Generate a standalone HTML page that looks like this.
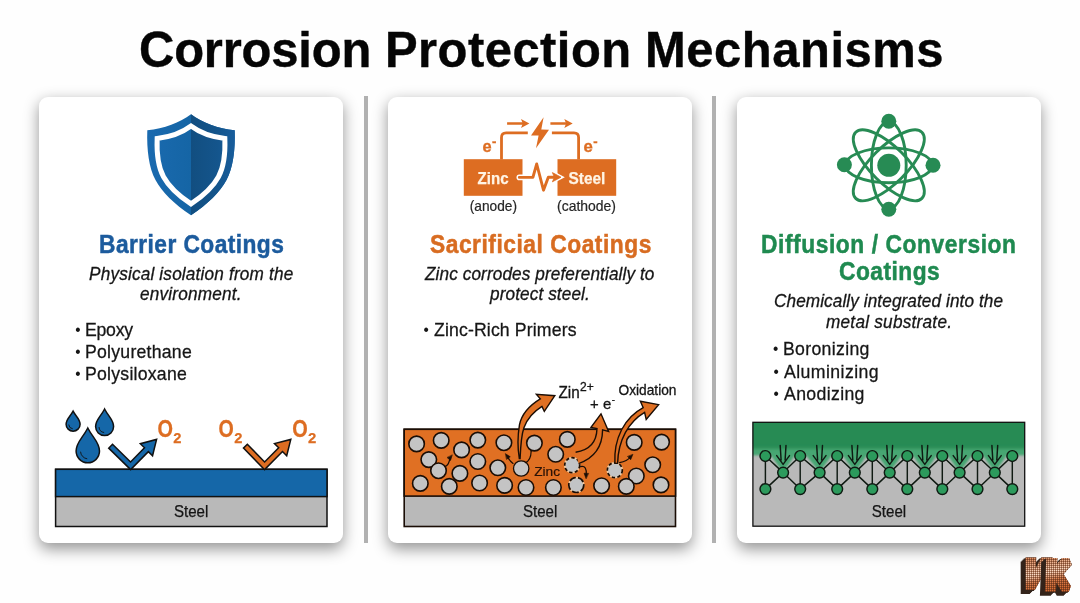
<!DOCTYPE html>
<html lang="en">
<head>
<meta charset="utf-8">
<title>Corrosion Protection Mechanisms</title>
<style>
*{box-sizing:border-box;margin:0;padding:0}
html,body{width:1080px;height:603px;overflow:hidden;background:#fefefe}
#stage{position:absolute;left:0;top:0;width:1080px;height:603px;will-change:transform}
body{position:relative;font-family:"Liberation Sans",sans-serif;color:#151515}
.card{position:absolute;top:96.8px;width:303.7px;height:446.1px;background:#fff;border-radius:9px;box-shadow:0 5.3px 15px rgba(0,0,0,.42)}
.divider{position:absolute;top:96.3px;width:4.4px;height:446.4px;background:#b1b1b1}
.t{position:absolute;white-space:nowrap;transform-origin:0 0}
h1.t{font-weight:700;color:#050505;letter-spacing:0;-webkit-text-stroke:0.4px #050505}
h1.t span{position:absolute;top:0;white-space:nowrap}
h2.t{font-weight:700}
.blue{color:#1c5b9d}.orange{color:#d86c21}.green{color:#1f8a50}
p.t{font-style:italic;color:#161616}
ul{list-style:none}
li.t{color:#161616}
li.t b{font-weight:400;position:absolute;top:-1.5px;margin-left:0.5px;letter-spacing:0;font-size:0.86em;-webkit-text-stroke:0}
svg#art{position:absolute;left:0;top:0;width:1080px;height:603px;overflow:visible}
svg text{font-family:"Liberation Sans",sans-serif}
</style>
</head>
<body>
<div id="stage">
<div class="card" style="left:39.2px"></div>
<div class="card" style="left:388.3px"></div>
<div class="card" style="left:737.1px"></div>
<div class="divider" style="left:363.5px"></div>
<div class="divider" style="left:712.1px"></div>

<h1 class="t" style="left:0;top:20px;width:1080px;height:60px;line-height:60px;font-size:50.2px"><span style="left:138.97px;letter-spacing:-0.185px;transform:scaleX(0.975);transform-origin:0 0">Corrosion</span> <span style="left:384.64px;letter-spacing:0.480px;transform:scaleX(0.975);transform-origin:0 0">Protection</span> <span style="left:644.64px;letter-spacing:0.554px;transform:scaleX(0.975);transform-origin:0 0">Mechanisms</span></h1>
<h2 class="t blue" style="left:98.80px;top:228px;line-height:32px;font-size:25.6px;letter-spacing:0.478px;-webkit-text-stroke:0.5px currentColor;transform:scaleX(0.89);">Barrier Coatings</h2>
<p class="t" style="left:88.62px;top:262px;line-height:23px;font-size:18.3px;letter-spacing:0.190px;-webkit-text-stroke:0.3px currentColor;transform:scaleX(0.94);">Physical isolation from the</p>
<p class="t" style="left:140.40px;top:282px;line-height:23px;font-size:18.3px;letter-spacing:0.204px;-webkit-text-stroke:0.3px currentColor;transform:scaleX(0.94);">environment.</p>
<ul>
<li class="t" style="left:85.46px;top:319px;line-height:22px;font-size:19.0px;letter-spacing:-0.271px;-webkit-text-stroke:0.3px currentColor;transform:scaleX(0.93);"><b style="left:-11.03px">&bull;</b>Epoxy</li>
<li class="t" style="left:85.46px;top:341px;line-height:22px;font-size:19.0px;letter-spacing:0.253px;-webkit-text-stroke:0.3px currentColor;transform:scaleX(0.93);"><b style="left:-11.03px">&bull;</b>Polyurethane</li>
<li class="t" style="left:85.46px;top:363px;line-height:22px;font-size:19.0px;letter-spacing:0.255px;-webkit-text-stroke:0.3px currentColor;transform:scaleX(0.93);"><b style="left:-11.03px">&bull;</b>Polysiloxane</li>
</ul>
<h2 class="t orange" style="left:429.57px;top:228px;line-height:32px;font-size:25.6px;letter-spacing:0.590px;-webkit-text-stroke:0.5px currentColor;transform:scaleX(0.89);">Sacrificial Coatings</h2>
<p class="t" style="left:424.88px;top:262px;line-height:23px;font-size:18.3px;letter-spacing:0.107px;-webkit-text-stroke:0.3px currentColor;transform:scaleX(0.94);">Zinc corrodes preferentially to</p>
<p class="t" style="left:490.38px;top:282px;line-height:23px;font-size:18.3px;letter-spacing:0.114px;-webkit-text-stroke:0.3px currentColor;transform:scaleX(0.94);">protect steel.</p>
<ul>
<li class="t" style="left:434.49px;top:319px;line-height:22px;font-size:19.0px;letter-spacing:0.144px;-webkit-text-stroke:0.3px currentColor;transform:scaleX(0.93);"><b style="left:-11.71px">&bull;</b>Zinc-Rich Primers</li>
</ul>
<h2 class="t green" style="left:760.80px;top:228px;line-height:32px;font-size:25.6px;letter-spacing:0.644px;-webkit-text-stroke:0.5px currentColor;transform:scaleX(0.89);">Diffusion / Conversion</h2>
<h2 class="t green" style="left:838.71px;top:255px;line-height:32px;font-size:25.6px;letter-spacing:0.518px;-webkit-text-stroke:0.5px currentColor;transform:scaleX(0.89);">Coatings</h2>
<p class="t" style="left:773.53px;top:289px;line-height:23px;font-size:18.3px;letter-spacing:0.097px;-webkit-text-stroke:0.3px currentColor;transform:scaleX(0.94);">Chemically integrated into the</p>
<p class="t" style="left:825.67px;top:310px;line-height:23px;font-size:18.3px;letter-spacing:0.263px;-webkit-text-stroke:0.3px currentColor;transform:scaleX(0.94);">metal substrate.</p>
<ul>
<li class="t" style="left:783.16px;top:338px;line-height:22px;font-size:19.0px;letter-spacing:0.347px;-webkit-text-stroke:0.3px currentColor;transform:scaleX(0.93);"><b style="left:-11.14px">&bull;</b>Boronizing</li>
<li class="t" style="left:783.84px;top:361px;line-height:22px;font-size:19.0px;letter-spacing:0.458px;-webkit-text-stroke:0.3px currentColor;transform:scaleX(0.93);"><b style="left:-11.87px">&bull;</b>Aluminizing</li>
<li class="t" style="left:783.84px;top:383px;line-height:22px;font-size:19.0px;letter-spacing:0.377px;-webkit-text-stroke:0.3px currentColor;transform:scaleX(0.93);"><b style="left:-11.87px">&bull;</b>Anodizing</li>
</ul>
<svg id="art" viewBox="0 0 1080 603" width="1080" height="603">
<defs>
<linearGradient id="shgL" gradientUnits="userSpaceOnUse" x1="147" y1="0" x2="191" y2="0"><stop offset="0" stop-color="#1a6aaf"/><stop offset="1" stop-color="#1565a5"/></linearGradient>
<linearGradient id="shgR" gradientUnits="userSpaceOnUse" x1="191" y1="0" x2="235" y2="0"><stop offset="0" stop-color="#124e80"/><stop offset="0.6" stop-color="#14558c"/><stop offset="1" stop-color="#185d9c"/></linearGradient>
<clipPath id="shR"><rect x="190.9" y="100" width="60" height="130"/></clipPath>
<filter id="blur2" x="-20%" y="-50%" width="140%" height="200%"><feGaussianBlur stdDeviation="1.6"/></filter>
<filter id="blur1" x="-20%" y="-50%" width="140%" height="200%"><feGaussianBlur stdDeviation="0.8"/></filter>
<clipPath id="latclip"><rect x="752.9" y="422.3" width="271.8" height="103.9"/></clipPath>
<pattern id="seq" x="0" y="0" width="2" height="2" patternUnits="userSpaceOnUse"><rect width="2" height="2" fill="#5a2a13"/><rect x="0" y="0" width="1.45" height="1.45" rx="0.4" fill="#e26a2c"/></pattern>
<pattern id="seqdot" x="0" y="0" width="2" height="2" patternUnits="userSpaceOnUse"><rect x="0" y="0" width="1.5" height="1.5" rx="0.45" fill="#fff6ea"/></pattern>
<linearGradient id="higrad" gradientUnits="userSpaceOnUse" x1="1040" y1="556" x2="1046" y2="592"><stop offset="0" stop-color="#fff" stop-opacity="0.3"/><stop offset=".3" stop-color="#fff" stop-opacity=".7"/><stop offset=".48" stop-color="#fff" stop-opacity=".95"/><stop offset=".7" stop-color="#fff" stop-opacity="0.22"/><stop offset="1" stop-color="#fff" stop-opacity="0.05"/></linearGradient>
<mask id="himask" maskUnits="userSpaceOnUse" x="1010" y="545" width="70" height="58"><rect x="1010" y="545" width="70" height="58" fill="url(#higrad)"/></mask>
<mask id="mV" maskUnits="userSpaceOnUse" x="1010" y="545" width="70" height="58"><use href="#gV" fill="#fff" stroke="#fff"/></mask>
<mask id="mK" maskUnits="userSpaceOnUse" x="1010" y="545" width="70" height="58"><use href="#gK" fill="#fff" stroke="#fff"/></mask>
<filter id="extrude" filterUnits="userSpaceOnUse" x="1008" y="545" width="72" height="58" color-interpolation-filters="sRGB"><feOffset in="SourceGraphic" dx="-0.92" dy="0.74" result="o1"/><feOffset in="SourceGraphic" dx="-1.84" dy="1.48" result="o2"/><feOffset in="SourceGraphic" dx="-2.76" dy="2.22" result="o3"/><feOffset in="SourceGraphic" dx="-3.68" dy="2.96" result="o4"/><feOffset in="SourceGraphic" dx="-4.6" dy="3.7" result="o5"/><feMerge><feMergeNode in="o5"/><feMergeNode in="o4"/><feMergeNode in="o3"/><feMergeNode in="o2"/><feMergeNode in="o1"/><feMergeNode in="SourceGraphic"/></feMerge></filter>
</defs>
<g id="shield"><path d="M191,114.2 C180,122.5 164,128.5 147.3,130.3 C146.6,150 149,168 155.5,180 C162,192 174,204 191,215.3 C208,204 220,192 226.5,180 C233,168 235.4,150 234.7,130.3 C218,128.5 202,122.5 191,114.2 Z" fill="url(#shgL)"/>
<path d="M191,114.2 C180,122.5 164,128.5 147.3,130.3 C146.6,150 149,168 155.5,180 C162,192 174,204 191,215.3 C208,204 220,192 226.5,180 C233,168 235.4,150 234.7,130.3 C218,128.5 202,122.5 191,114.2 Z" fill="url(#shgR)" clip-path="url(#shR)"/>
<path d="M191,114.2 C180,122.5 164,128.5 147.3,130.3 C146.6,150 149,168 155.5,180 C162,192 174,204 191,215.3 C208,204 220,192 226.5,180 C233,168 235.4,150 234.7,130.3 C218,128.5 202,122.5 191,114.2 Z" fill="none" stroke="#fff" stroke-width="6.4" stroke-linejoin="miter" transform="translate(191 165) scale(0.775 0.77) translate(-191 -164.75)"/></g>
<g id="d1" stroke="#111" stroke-width="1.5" stroke-linejoin="miter">
<rect x="55.6" y="469.3" width="271.4" height="57.2" fill="#b9b9b9"/>
<rect x="55.6" y="469.3" width="271.4" height="27.3" fill="#1567a8"/>
<path d="M73.1,411.2 C76.25,417.05 80.10,418.95 80.10,424.20 A7.0,7.0 0 0 1 66.10,424.20 C66.10,418.95 69.95,417.05 73.1,411.2 Z" fill="#1567a8"/><path d="M68.76,424.55 A4.62,4.62 0 0 0 72.75,428.82" fill="none" stroke-width="0.9"/>
<path d="M104.6,409.0 C108.65,416.92 113.60,419.85 113.60,426.60 A9.0,9.0 0 0 1 95.60,426.60 C95.60,419.85 100.55,416.92 104.6,409.0 Z" fill="#1567a8"/><path d="M99.02,427.05 A5.94,5.94 0 0 0 104.15,432.54" fill="none" stroke-width="0.9"/>
<path d="M87.8,428.0 C93.06,438.39 99.50,442.33 99.50,451.10 A11.7,11.7 0 0 1 76.10,451.10 C76.10,442.33 82.53,438.39 87.8,428.0 Z" fill="#1567a8"/><path d="M80.55,451.69 A7.72,7.72 0 0 0 87.22,458.82" fill="none" stroke-width="0.9"/>
<polygon points="112.49,444.27 130.57,461.99 144.50,447.84 140.30,443.70 156.60,439.40 152.55,455.77 148.35,451.63 130.63,469.61 108.71,448.13" fill="#1567a8"/>
<polygon points="247.33,444.31 264.61,461.95 278.67,447.79 274.48,443.63 290.80,439.40 286.69,455.75 282.50,451.59 264.59,469.65 243.47,448.09" fill="#dd6d22"/>
</g>
<text x="157.43" y="437.2" font-size="23.6" font-weight="700" fill="#dd6d22" stroke="#dd6d22" stroke-width="0.3" textLength="15.48" lengthAdjust="spacingAndGlyphs">O</text>
<text x="173.23" y="443" font-size="14.8" font-weight="700" fill="#dd6d22" stroke="#dd6d22" stroke-width="0.25" textLength="8.19" lengthAdjust="spacingAndGlyphs">2</text>
<text x="218.54" y="437.2" font-size="23.6" font-weight="700" fill="#dd6d22" stroke="#dd6d22" stroke-width="0.3" textLength="15.26" lengthAdjust="spacingAndGlyphs">O</text>
<text x="234.23" y="443" font-size="14.8" font-weight="700" fill="#dd6d22" stroke="#dd6d22" stroke-width="0.25" textLength="8.19" lengthAdjust="spacingAndGlyphs">2</text>
<text x="292.33" y="437.2" font-size="23.6" font-weight="700" fill="#dd6d22" stroke="#dd6d22" stroke-width="0.3" textLength="15.48" lengthAdjust="spacingAndGlyphs">O</text>
<text x="308.12" y="443" font-size="14.8" font-weight="700" fill="#dd6d22" stroke="#dd6d22" stroke-width="0.25" textLength="8.30" lengthAdjust="spacingAndGlyphs">2</text>
<text x="173.95" y="517" font-size="16.3" fill="#151515" stroke="#151515" stroke-width="0.25" textLength="34.42" lengthAdjust="spacingAndGlyphs">Steel</text>
<g id="ic2" fill="none" stroke="#dd6d22" stroke-width="2.8" stroke-linecap="butt" stroke-linejoin="round">
<rect x="463.8" y="159.2" width="58.7" height="36.6" fill="#dd6d22" stroke="none"/>
<rect x="557.5" y="159.2" width="58.7" height="36.6" fill="#dd6d22" stroke="none"/>
<path d="M501.5,159.6 V137.4 Q501.5,132.8 506.1,132.8 H527.8"/>
<path d="M551.9,132.8 H574.0 Q578.6,132.8 578.6,137.4 V159.6"/>
<path d="M507.1,123.4 H523.5 M550.4,123.4 H566.8" stroke-width="2.5"/>
<path d="M521.0,118.9 L529.4,123.4 L521.0,127.9 L522.8,123.4 Z M564.3,118.9 L572.7,123.4 L564.3,127.9 L566.1,123.4 Z" fill="#dd6d22" stroke="none"/>
<path d="M543.6,117.2 L531.0,135.4 L538.6,135.6 L536.0,148.3 L549.0,129.8 L541.3,129.6 Z" fill="#dd6d22" stroke="none"/>
<path d="M519.3,177.4 H523.0" stroke="#fff" stroke-width="5.6" stroke-linecap="round"/>
<path d="M552.4,172.6 L561.0,177.2 L552.4,181.8 L554.4,177.2 Z" fill="#fff" stroke="#fff" stroke-width="3.6" stroke-linejoin="miter"/>
<path d="M519.3,177.4 H532.9 L536.7,164.0 L543.5,190.2 L548.3,177.2 H554.5" stroke-width="2.9" stroke-linecap="round" stroke-linejoin="round"/>
<path d="M552.4,172.6 L561.0,177.2 L552.4,181.8 L554.4,177.2 Z" fill="#dd6d22" stroke="#dd6d22" stroke-width="0.8" stroke-linejoin="miter"/>
</g>
<text x="477.59" y="184" font-size="17.0" font-weight="700" fill="#fff4e4" stroke="#fff4e4" stroke-width="0.25" textLength="30.96" lengthAdjust="spacingAndGlyphs">Zinc</text>
<text x="568.48" y="184" font-size="17.0" font-weight="700" fill="#fff4e4" stroke="#fff4e4" stroke-width="0.25" textLength="36.90" lengthAdjust="spacingAndGlyphs">Steel</text>
<text x="469.78" y="211" font-size="14.6" fill="#262626" stroke="#262626" stroke-width="0.2" textLength="47.23" lengthAdjust="spacingAndGlyphs">(anode)</text>
<text x="557.06" y="211" font-size="14.6" fill="#262626" stroke="#262626" stroke-width="0.2" textLength="58.96" lengthAdjust="spacingAndGlyphs">(cathode)</text>
<text x="482.46" y="152" font-size="15.7" font-weight="700" fill="#dd6d22" stroke="#dd6d22" stroke-width="0.3" textLength="9.14" lengthAdjust="spacingAndGlyphs">e</text>
<text x="491.97" y="145.9" font-size="12" font-weight="700" fill="#dd6d22" stroke="#dd6d22" stroke-width="0.3" textLength="4.35" lengthAdjust="spacingAndGlyphs">-</text>
<text x="583.55" y="152" font-size="15.7" font-weight="700" fill="#dd6d22" stroke="#dd6d22" stroke-width="0.3" textLength="9.31" lengthAdjust="spacingAndGlyphs">e</text>
<text x="593.27" y="145.9" font-size="12" font-weight="700" fill="#dd6d22" stroke="#dd6d22" stroke-width="0.3" textLength="4.35" lengthAdjust="spacingAndGlyphs">-</text>
<g id="d2" stroke="#1a0d05" stroke-width="1.6">
<rect x="404.2" y="429.3" width="271.3" height="97.2" fill="#b9b9b9"/>
<rect x="404.2" y="429.3" width="271.3" height="66.8" fill="#e07023"/>
<circle cx="416.6" cy="443.9" r="7.75" fill="#c4c4c4"/>
<circle cx="441.2" cy="440.4" r="7.75" fill="#c4c4c4"/>
<circle cx="477.8" cy="440.1" r="7.75" fill="#c4c4c4"/>
<circle cx="503.9" cy="442.7" r="7.75" fill="#c4c4c4"/>
<circle cx="534.4" cy="443.1" r="7.75" fill="#c4c4c4"/>
<circle cx="428.8" cy="459.6" r="7.75" fill="#c4c4c4"/>
<circle cx="461.6" cy="449.9" r="7.75" fill="#c4c4c4"/>
<circle cx="477.8" cy="461.5" r="7.75" fill="#c4c4c4"/>
<circle cx="497.8" cy="467.8" r="7.75" fill="#c4c4c4"/>
<circle cx="438.5" cy="470.7" r="7.75" fill="#c4c4c4"/>
<circle cx="459.9" cy="473.4" r="7.75" fill="#c4c4c4"/>
<circle cx="420.3" cy="483.4" r="7.75" fill="#c4c4c4"/>
<circle cx="449.3" cy="486.4" r="7.75" fill="#c4c4c4"/>
<circle cx="479.6" cy="483.0" r="7.75" fill="#c4c4c4"/>
<circle cx="504.6" cy="485.4" r="7.75" fill="#c4c4c4"/>
<circle cx="526.0" cy="487.5" r="7.75" fill="#c4c4c4"/>
<circle cx="567.3" cy="439.4" r="7.75" fill="#c4c4c4"/>
<circle cx="555.7" cy="454.3" r="7.75" fill="#c4c4c4"/>
<circle cx="634.2" cy="442.4" r="7.75" fill="#c4c4c4"/>
<circle cx="661.6" cy="442.1" r="7.75" fill="#c4c4c4"/>
<circle cx="652.7" cy="464.8" r="7.75" fill="#c4c4c4"/>
<circle cx="636.3" cy="476.0" r="7.75" fill="#c4c4c4"/>
<circle cx="626.3" cy="486.4" r="7.75" fill="#c4c4c4"/>
<circle cx="553.4" cy="487.5" r="7.75" fill="#c4c4c4"/>
<circle cx="601.6" cy="485.7" r="7.75" fill="#c4c4c4"/>
<circle cx="661.0" cy="484.9" r="7.75" fill="#c4c4c4"/>
<circle cx="521.2" cy="468.5" r="7.7" fill="#c4c4c4" stroke-width="1.3"/>
<circle cx="572.2" cy="465.2" r="7.5" fill="#c2c4c6" stroke="#f0c9a0" stroke-width="1.6"/>
<circle cx="572.2" cy="465.2" r="7.5" fill="none" stroke-width="1.7" stroke-dasharray="3.4 2.3"/>
<circle cx="614.8" cy="470.2" r="7.5" fill="#c2c4c6" stroke="#f0c9a0" stroke-width="1.6"/>
<circle cx="614.8" cy="470.2" r="7.5" fill="none" stroke-width="1.7" stroke-dasharray="3.4 2.3"/>
<circle cx="576.3" cy="485.0" r="7.5" fill="#c2c4c6" stroke="#f0c9a0" stroke-width="1.6"/>
<circle cx="576.3" cy="485.0" r="7.5" fill="none" stroke-width="1.7" stroke-dasharray="7 2.2"/>
</g>
<g id="bigarrows" fill="#e07023" stroke="#1a0d05" stroke-width="1.4" stroke-linejoin="miter">
<path d="M519.3,458.5 C517.4,447 517.6,436 519.45,424.8 C521.5,415 527,407 540.3,398.9 L536.4,394.4 L554.8,395.7 L544.3,411.4 L542.0,406.4 C533,412 526.5,420.5 523.9,427.8 C521.8,434 520.6,446 520.1,458.5 Z"/>
<path d="M575.6,452.2 C589.0,450.4 596.6,442.6 597.0,428.6 L591.0,427.4 L601.0,413.8 L608.6,431.4 L602.6,429.8 C602.4,447.4 592.8,458.6 578.6,463.6"/>
<path d="M614.9,463.4 C613.6,438.0 624.6,417.6 643.2,407.6 L640.4,401.2 L658.6,404.6 L646.2,419.4 L644.6,412.4 C629.0,421.6 618.2,439.6 617.6,463.4 Z"/>
</g>
<g id="smallarrows" fill="none" stroke="#1a0d05" stroke-width="1.2" stroke-linecap="round">
<path d="M445.0,466.4 C449.4,465.6 448.6,460.8 450.6,457.8"/><polygon points="452.20,455.20 450.54,460.46 447.31,457.75" fill="#1a0d05" stroke-width="0.6"/>
<path d="M513.0,463.4 C510.4,461.8 508.6,459.0 507.4,456.4"/><polygon points="505.60,453.80 510.25,456.77 506.80,459.19" fill="#1a0d05" stroke-width="0.6"/>
<path d="M525.4,462.6 C529.8,461.0 531.0,456.6 531.2,451.0"/><polygon points="531.20,451.00 531.26,451.15 531.14,451.15" fill="#1a0d05" stroke-width="0.6"/>
<path d="M580.6,466.6 C585.4,465.6 586.6,469.0 586.2,474.6"/><polygon points="586.00,478.40 584.07,473.23 588.28,473.38" fill="#1a0d05" stroke-width="0.6"/>
<path d="M619.6,462.6 C624.6,461.6 628.2,459.8 630.6,456.8"/><polygon points="632.80,454.60 630.68,459.70 627.70,456.72" fill="#1a0d05" stroke-width="0.6"/>
</g>
<text x="534.20" y="475.5" font-size="12.8" fill="#2a1206" stroke="#2a1206" stroke-width="0.2" textLength="25.91" lengthAdjust="spacingAndGlyphs">Zinc</text>
<text x="558.47" y="398" font-size="15.6" fill="#151515" stroke="#151515" stroke-width="0.3" textLength="21.25" lengthAdjust="spacingAndGlyphs">Zin</text>
<text x="579.99" y="391" font-size="12.0" fill="#151515" stroke="#151515" stroke-width="0.3" textLength="13.74" lengthAdjust="spacingAndGlyphs">2+</text>
<text x="590.08" y="409" font-size="15.2" fill="#151515" stroke="#151515" stroke-width="0.3" textLength="21.10" lengthAdjust="spacingAndGlyphs">+ e</text>
<text x="611.85" y="402.8" font-size="10.5" fill="#151515" stroke="#151515" stroke-width="0.3" textLength="3.20" lengthAdjust="spacingAndGlyphs">-</text>
<text x="618.44" y="395" font-size="14.2" fill="#151515" stroke="#151515" stroke-width="0.3" textLength="58.07" lengthAdjust="spacingAndGlyphs">Oxidation</text>
<text x="522.95" y="517" font-size="16.3" fill="#151515" stroke="#151515" stroke-width="0.25" textLength="34.42" lengthAdjust="spacingAndGlyphs">Steel</text>
<g id="atom" fill="none" stroke="#278b54" stroke-width="2.9">
<ellipse cx="888.8" cy="165.3" rx="17.4" ry="43.4"/>
<ellipse cx="888.8" cy="165.3" rx="43.4" ry="17.4"/>
<ellipse cx="888.8" cy="165.3" rx="46.8" ry="18.0" transform="rotate(45 888.8 165.3)"/>
<ellipse cx="888.8" cy="165.3" rx="46.8" ry="18.0" transform="rotate(-45 888.8 165.3)"/>
<circle cx="888.8" cy="165.3" r="15.2" fill="#fff" stroke="none"/>
<circle cx="888.8" cy="165.3" r="11.5" fill="#278b54" stroke="none"/>
<circle cx="888.8" cy="121.3" r="7.5" fill="#278b54" stroke="none"/>
<circle cx="888.8" cy="209.2" r="7.5" fill="#278b54" stroke="none"/>
<circle cx="844.4" cy="164.8" r="7.5" fill="#278b54" stroke="none"/>
<circle cx="933.0" cy="165.3" r="7.5" fill="#278b54" stroke="none"/>
</g>
<g id="d3">
<rect x="752.9" y="422.3" width="271.8" height="103.9" fill="#b9b9b9"/>
<g clip-path="url(#latclip)">
<g filter="url(#blur1)"><rect x="745" y="440" width="290" height="15.4" fill="#47a672"/><path d="M768.4,452 L797.2,452 L784.6,470.5 L781.6,470.5 Z M803.2,452 L834.2,452 L821.1,470.5 L818.1,470.5 Z M840.2,452 L869.3,452 L856.3,470.5 L853.3,470.5 Z M875.3,452 L904.3,452 L891.2,470.5 L888.2,470.5 Z M910.3,452 L939.3,452 L926.3,470.5 L923.3,470.5 Z M945.3,452 L974.5,452 L961.1,470.5 L958.1,470.5 Z M980.5,452 L1009.3,452 L996.3,470.5 L993.3,470.5 Z " fill="#47a672"/></g>
<rect x="745" y="415" width="290" height="33.6" fill="#278b54" filter="url(#blur2)"/>
<rect x="745" y="415" width="290" height="29" fill="#278b54"/>
</g>
<g stroke="#0f1a12" stroke-width="1.45" fill="none" stroke-linecap="round" stroke-linejoin="round">
<path d="M765.4,456.0 V489.1"/>
<path d="M800.2,456.0 V489.1"/>
<path d="M837.2,456.0 V489.1"/>
<path d="M872.3,456.0 V489.1"/>
<path d="M907.3,456.0 V489.1"/>
<path d="M942.3,456.0 V489.1"/>
<path d="M977.5,456.0 V489.1"/>
<path d="M1012.3,456.0 V489.1"/>
<path d="M765.4,456.0 L783.1,472.6 L765.4,489.1 M800.2,456.0 L783.1,472.6 L800.2,489.1"/>
<path d="M780.2,445.4 L781.1,460.0 M786.0,445.4 L785.1,460.0 M776.7,455.6 L783.1,464.4 L789.5,455.6"/>
<path d="M800.2,456.0 L819.6,472.6 L800.2,489.1 M837.2,456.0 L819.6,472.6 L837.2,489.1"/>
<path d="M816.7,445.4 L817.6,460.0 M822.5,445.4 L821.6,460.0 M813.2,455.6 L819.6,464.4 L826.0,455.6"/>
<path d="M837.2,456.0 L854.8,472.6 L837.2,489.1 M872.3,456.0 L854.8,472.6 L872.3,489.1"/>
<path d="M851.9,445.4 L852.8,460.0 M857.7,445.4 L856.8,460.0 M848.4,455.6 L854.8,464.4 L861.2,455.6"/>
<path d="M872.3,456.0 L889.7,472.6 L872.3,489.1 M907.3,456.0 L889.7,472.6 L907.3,489.1"/>
<path d="M886.8,445.4 L887.7,460.0 M892.6,445.4 L891.7,460.0 M883.3,455.6 L889.7,464.4 L896.1,455.6"/>
<path d="M907.3,456.0 L924.8,472.6 L907.3,489.1 M942.3,456.0 L924.8,472.6 L942.3,489.1"/>
<path d="M921.9,445.4 L922.8,460.0 M927.7,445.4 L926.8,460.0 M918.4,455.6 L924.8,464.4 L931.2,455.6"/>
<path d="M942.3,456.0 L959.6,472.6 L942.3,489.1 M977.5,456.0 L959.6,472.6 L977.5,489.1"/>
<path d="M956.7,445.4 L957.6,460.0 M962.5,445.4 L961.6,460.0 M953.2,455.6 L959.6,464.4 L966.0,455.6"/>
<path d="M977.5,456.0 L994.8,472.6 L977.5,489.1 M1012.3,456.0 L994.8,472.6 L1012.3,489.1"/>
<path d="M991.9,445.4 L992.8,460.0 M997.7,445.4 L996.8,460.0 M988.4,455.6 L994.8,464.4 L1001.2,455.6"/>
<circle cx="765.4" cy="456.0" r="5.4" fill="#2c9a5c"/>
<circle cx="765.4" cy="489.1" r="5.4" fill="#2c9a5c"/>
<circle cx="800.2" cy="456.0" r="5.4" fill="#2c9a5c"/>
<circle cx="800.2" cy="489.1" r="5.4" fill="#2c9a5c"/>
<circle cx="837.2" cy="456.0" r="5.4" fill="#2c9a5c"/>
<circle cx="837.2" cy="489.1" r="5.4" fill="#2c9a5c"/>
<circle cx="872.3" cy="456.0" r="5.4" fill="#2c9a5c"/>
<circle cx="872.3" cy="489.1" r="5.4" fill="#2c9a5c"/>
<circle cx="907.3" cy="456.0" r="5.4" fill="#2c9a5c"/>
<circle cx="907.3" cy="489.1" r="5.4" fill="#2c9a5c"/>
<circle cx="942.3" cy="456.0" r="5.4" fill="#2c9a5c"/>
<circle cx="942.3" cy="489.1" r="5.4" fill="#2c9a5c"/>
<circle cx="977.5" cy="456.0" r="5.4" fill="#2c9a5c"/>
<circle cx="977.5" cy="489.1" r="5.4" fill="#2c9a5c"/>
<circle cx="1012.3" cy="456.0" r="5.4" fill="#2c9a5c"/>
<circle cx="1012.3" cy="489.1" r="5.4" fill="#2c9a5c"/>
<circle cx="783.1" cy="472.6" r="5.4" fill="#2c9a5c"/>
<circle cx="819.6" cy="472.6" r="5.4" fill="#2c9a5c"/>
<circle cx="854.8" cy="472.6" r="5.4" fill="#2c9a5c"/>
<circle cx="889.7" cy="472.6" r="5.4" fill="#2c9a5c"/>
<circle cx="924.8" cy="472.6" r="5.4" fill="#2c9a5c"/>
<circle cx="959.6" cy="472.6" r="5.4" fill="#2c9a5c"/>
<circle cx="994.8" cy="472.6" r="5.4" fill="#2c9a5c"/>
</g>
<rect x="752.9" y="422.3" width="271.8" height="103.9" fill="none" stroke="#111" stroke-width="1.3"/>
<text x="871.75" y="517" font-size="16.3" fill="#151515" stroke="#151515" stroke-width="0.25" textLength="34.42" lengthAdjust="spacingAndGlyphs">Steel</text>
</g>
<g id="logo">
<g fill="#34241b" stroke="#34241b" filter="url(#extrude)"><text id="gV" x="0" y="0" font-size="35.5" font-weight="700" font-style="italic" stroke-width="8.0" stroke-linejoin="miter" stroke-miterlimit="2" transform="translate(1023.55 586.40) skewX(-7) scale(0.78 1)">V</text></g><g mask="url(#mV)"><rect x="1016" y="550" width="64" height="52" fill="url(#seq)"/><rect x="1016" y="550" width="64" height="52" fill="url(#seqdot)" mask="url(#himask)"/></g>
<g fill="#34241b" stroke="#34241b" filter="url(#extrude)"><text id="gK" x="0" y="0" font-size="38" font-weight="700" font-style="italic" stroke-width="7.6" stroke-linejoin="miter" stroke-miterlimit="2" transform="translate(1047.75 587.90) skewX(7) scale(0.84 1)">K</text></g><g mask="url(#mK)"><rect x="1016" y="550" width="64" height="52" fill="url(#seq)"/><rect x="1016" y="550" width="64" height="52" fill="url(#seqdot)" mask="url(#himask)"/></g>
</g>
</svg>
</div>
</body>
</html>
